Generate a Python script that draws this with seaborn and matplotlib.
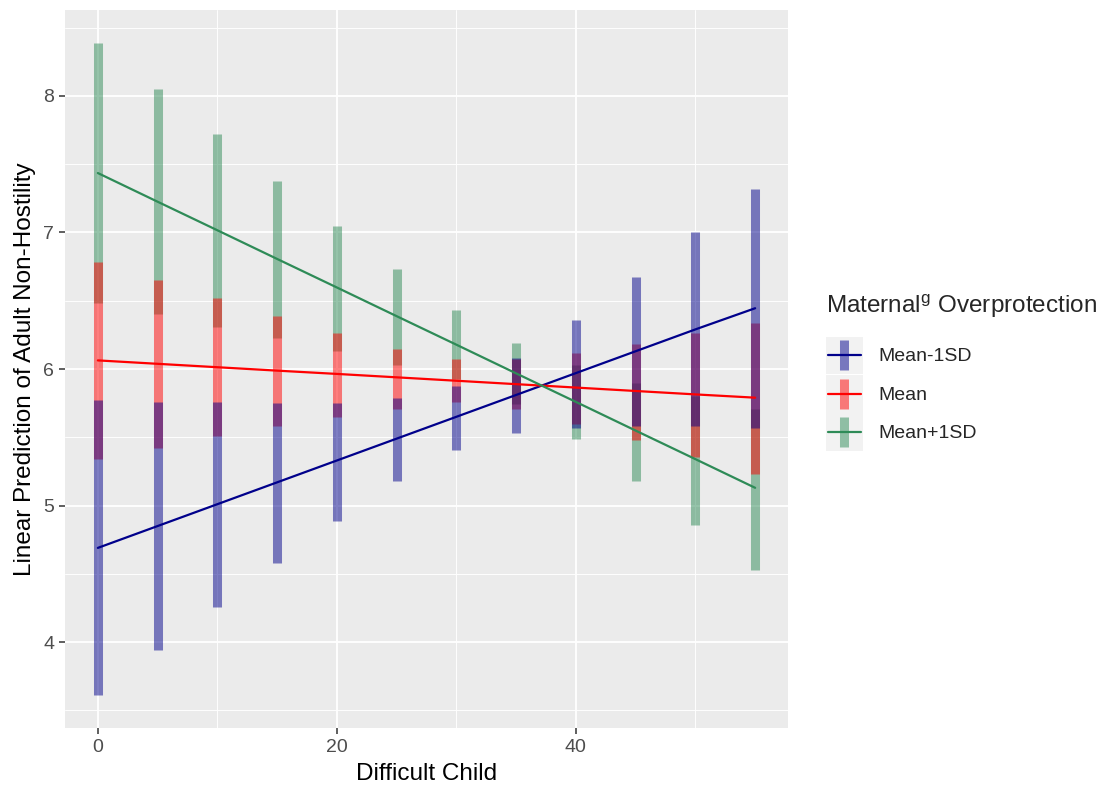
import numpy as np
import pandas as pd
import matplotlib
matplotlib.use("Agg")
import matplotlib.pyplot as plt
import seaborn as sns
from matplotlib.lines import Line2D
from matplotlib.patches import Rectangle
from matplotlib.legend_handler import HandlerBase

# ---- data ----
x_vals = [0, 5, 10, 15, 20, 25, 30, 35, 40, 45, 50, 55]
groups = ["Mean-1SD", "Mean", "Mean+1SD"]

low_fit = [4.69, 4.85, 5.01, 5.17, 5.33, 5.49, 5.65, 5.81, 5.97, 6.13, 6.29, 6.445]
low_lo = [3.61, 3.94, 4.26, 4.58, 4.89, 5.18, 5.41, 5.53, 5.57, 5.58, 5.58, 5.57]
low_hi = [5.77, 5.76, 5.755, 5.75, 5.75, 5.785, 5.875, 6.08, 6.36, 6.675, 7.0, 7.32]

mid_fit = [6.063, 6.038, 6.013, 5.988, 5.964, 5.939, 5.914, 5.889, 5.864, 5.839, 5.814, 5.79]
mid_lo = [5.34, 5.42, 5.51, 5.58, 5.65, 5.71, 5.755, 5.71, 5.60, 5.48, 5.355, 5.23]
mid_hi = [6.78, 6.65, 6.52, 6.39, 6.26, 6.15, 6.07, 6.07, 6.115, 6.18, 6.26, 6.34]

high_fit = [7.435, 7.225, 7.016, 6.806, 6.597, 6.387, 6.178, 5.968, 5.759, 5.549, 5.34, 5.13]
high_lo = [6.48, 6.40, 6.31, 6.23, 6.13, 6.03, 5.93, 5.745, 5.49, 5.18, 4.86, 4.53]
high_hi = [8.39, 8.05, 7.72, 7.38, 7.05, 6.73, 6.43, 6.19, 6.03, 5.90, 5.80, 5.71]

colors = {"Mean-1SD": "#00008B", "Mean": "#FF0000", "Mean+1SD": "#2E8B57"}

df = pd.concat([
    pd.DataFrame({"x": x_vals, "fit": low_fit, "lo": low_lo, "hi": low_hi, "group": "Mean-1SD"}),
    pd.DataFrame({"x": x_vals, "fit": mid_fit, "lo": mid_lo, "hi": mid_hi, "group": "Mean"}),
    pd.DataFrame({"x": x_vals, "fit": high_fit, "lo": high_lo, "hi": high_hi, "group": "Mean+1SD"}),
], ignore_index=True)

sns.set_theme(style="darkgrid", rc={
    "axes.facecolor": "#EBEBEB",
    "grid.color": "white",
    "axes.edgecolor": "#EBEBEB",
})
plt.rcParams["font.family"] = ["Liberation Sans", "DejaVu Sans"]
plt.rcParams["mathtext.fontset"] = "custom"
plt.rcParams["mathtext.rm"] = "Liberation Sans"

fig = plt.figure(figsize=(11.01, 7.87), dpi=100)
ax = fig.add_axes([65 / 1101, 1 - 728 / 787, (788 - 65) / 1101, (728 - 10) / 787])

# error bars: green first, then red, then blue on top
for g in ["Mean+1SD", "Mean", "Mean-1SD"]:
    sub = df[df["group"] == g]
    ax.vlines(sub["x"], sub["lo"], sub["hi"], color=colors[g], alpha=0.5,
              linewidth=6.5, zorder=2)

sns.lineplot(data=df, x="x", y="fit", hue="group", palette=colors, hue_order=groups,
             ax=ax, linewidth=1.6, legend=False, zorder=3)

ax.set_xlim(-2.75, 57.75)
ax.set_ylim(3.371, 8.629)
ax.set_xticks([0, 20, 40])
ax.set_xticks([10, 30, 50], minor=True)
ax.set_yticks([4, 5, 6, 7, 8])
ax.set_yticks([3.5, 4.5, 5.5, 6.5, 7.5, 8.5], minor=True)
ax.grid(which="major", color="white", linewidth=1.3)
ax.grid(which="minor", color="white", linewidth=0.65)
ax.tick_params(axis="both", which="major", length=4.4, width=1.1, color="#333333",
               labelsize=14, labelcolor="#4D4D4D", bottom=True, left=True, pad=3.5)
ax.tick_params(axis="both", which="minor", length=0)
for s in ax.spines.values():
    s.set_visible(False)

ax.set_xlabel("Difficult Child", fontsize=17.5, color="black", labelpad=5)
ax.set_ylabel("Linear Prediction of Adult Non-Hostility", fontsize=17.5, color="black", labelpad=5)


class KeyHandler(HandlerBase):
    def create_artists(self, legend, orig_handle, xdescent, ydescent, width, height,
                       fontsize, trans):
        color = orig_handle.get_color()
        x0, y0 = -xdescent, -ydescent
        rect = Rectangle((x0, y0), width, height, facecolor="#F2F2F2",
                         edgecolor="none", transform=trans)
        cx = x0 + width / 2
        bar = Line2D([cx, cx], [y0 + 0.1 * height, y0 + 0.9 * height], color=color,
                     alpha=0.5, linewidth=6.5, solid_capstyle="butt", transform=trans)
        ln = Line2D([x0 + 0.05 * width, x0 + 0.95 * width], [y0 + height / 2] * 2,
                    color=color, linewidth=1.6, transform=trans)
        return [rect, bar, ln]


handles = [Line2D([], [], color=colors[g]) for g in groups]
leg = fig.legend(handles, groups, handler_map={Line2D: KeyHandler()},
                 loc="upper left", bbox_to_anchor=(826 / 1101, 1 - 292 / 787),
                 frameon=False, fontsize=14, title="Maternal$^{\\mathrm{g}}$ Overprotection",
                 title_fontsize=17.5, handlelength=1.9, handleheight=2.6, labelspacing=0.04,
                 handletextpad=0.77, borderaxespad=0, borderpad=0)
leg._legend_box.align = "left"
leg._legend_box.sep = 12

fig.savefig("out.png", dpi=100)
